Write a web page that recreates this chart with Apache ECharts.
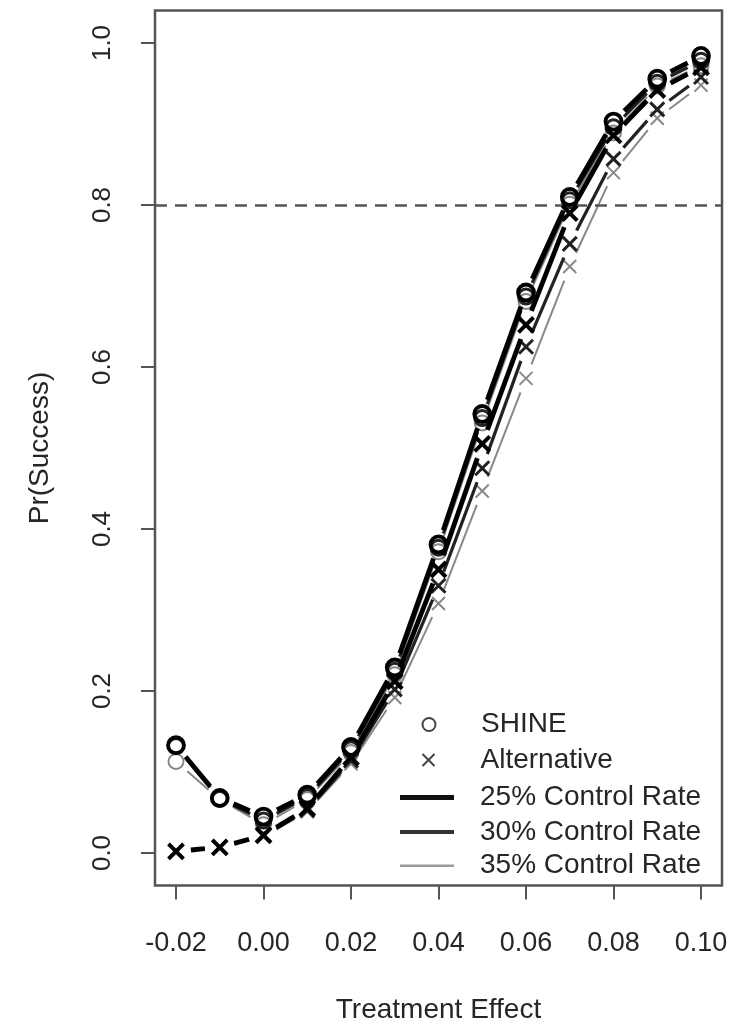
<!DOCTYPE html>
<html>
<head>
<meta charset="utf-8">
<script src="https://cdn.jsdelivr.net/npm/echarts@6/dist/echarts.min.js"></script>
<style>
html,body{margin:0;padding:0;background:#fff;}
#chart{width:731px;height:1024px;}
</style>
</head>
<body>
<div id="chart"></div>
<script>
// ---- data ----
const xValues = [-0.02, -0.01, 0.00, 0.01, 0.02, 0.03, 0.04, 0.05, 0.06, 0.07, 0.08, 0.09, 0.10];
const shine25 = [0.133, 0.068, 0.045, 0.072, 0.131, 0.229, 0.381, 0.542, 0.692, 0.810, 0.903, 0.956, 0.984];
const shine30 = [0.132, 0.067, 0.040, 0.069, 0.128, 0.225, 0.377, 0.537, 0.687, 0.806, 0.896, 0.951, 0.978];
const shine35 = [0.113, 0.066, 0.035, 0.066, 0.124, 0.220, 0.372, 0.531, 0.681, 0.801, 0.889, 0.947, 0.972];
const alt25 = [0.002, 0.007, 0.022, 0.055, 0.118, 0.212, 0.350, 0.505, 0.652, 0.790, 0.886, 0.942, 0.970];
const alt30 = [0.002, 0.007, 0.021, 0.053, 0.114, 0.202, 0.330, 0.475, 0.625, 0.752, 0.857, 0.918, 0.958];
const alt35 = [0.002, 0.006, 0.020, 0.051, 0.110, 0.192, 0.308, 0.447, 0.586, 0.724, 0.840, 0.907, 0.948];
const xTicks = [-0.02, 0.00, 0.02, 0.04, 0.06, 0.08, 0.10];
const xTickLabels = ['-0.02', '0.00', '0.02', '0.04', '0.06', '0.08', '0.10'];
const yTicks = [0.0, 0.2, 0.4, 0.6, 0.8, 1.0];
const yTickLabels = ['0.0', '0.2', '0.4', '0.6', '0.8', '1.0'];
const targetLevel = 0.8;
const legendNames = ['SHINE', 'Alternative', '25% Control Rate', '30% Control Rate', '35% Control Rate'];

// ---- styling ----
const GAP = 15;
const CROSS = 'path://M0,0L10,10M0,10L10,0';
const FONT = '"Liberation Sans", Arial, Helvetica, sans-serif';
const TXT = '#262626';

function labelFor(ticks, labels, v) {
  const i = ticks.findIndex(t => Math.abs(t - v) < 1e-9);
  return i >= 0 ? labels[i] : '';
}

function segSeries(name, ys, color, width, z) {
  return {
    type: 'custom', name: name, z: z, silent: true,
    data: xValues.map((x, i) => [x, ys[i]]),
    encode: { x: 0, y: 1 },
    renderItem: function (params, api) {
      const i = params.dataIndex;
      if (i >= xValues.length - 1) return { type: 'group', children: [] };
      const p = api.coord([xValues[i], ys[i]]);
      const q = api.coord([xValues[i + 1], ys[i + 1]]);
      const dx = q[0] - p[0], dy = q[1] - p[1];
      const len = Math.sqrt(dx * dx + dy * dy);
      if (len <= 2 * GAP) return { type: 'group', children: [] };
      const ux = dx / len, uy = dy / len;
      return {
        type: 'line',
        shape: { x1: p[0] + ux * GAP, y1: p[1] + uy * GAP, x2: q[0] - ux * GAP, y2: q[1] - uy * GAP },
        style: { stroke: color, lineWidth: width, lineCap: 'butt' }
      };
    }
  };
}

function markSeries(name, ys, symbol, size, color, width, z) {
  return {
    type: 'scatter', name: name, z: z, silent: true,
    symbol: symbol, symbolSize: size,
    data: xValues.map((x, i) => [x, ys[i]]),
    itemStyle: { color: 'rgba(0,0,0,0)', borderColor: color, borderWidth: width, opacity: 1 }
  };
}

const centers = [717, 752, 786, 820, 853];
const legendSpecs = [
  { h: 13, left: 421.5, pad: 20, icon: 'circle', style: { color: 'rgba(0,0,0,0)', borderColor: '#444', borderWidth: 2 } },
  { h: 12, left: 421.5, pad: 20, icon: CROSS, style: { color: 'rgba(0,0,0,0)', borderColor: '#444', borderWidth: 2 } },
  { h: 5, left: 400, pad: 21, icon: 'rect', style: { color: '#111' } },
  { h: 4, left: 400, pad: 21, icon: 'rect', style: { color: '#333' } },
  { h: 2.5, left: 400, pad: 21, icon: 'rect', style: { color: '#999' } }
];
const legends = legendNames.map((n, i) => ({
  left: legendSpecs[i].left, top: centers[i] - legendSpecs[i].h / 2, padding: 0,
  itemWidth: 54, itemHeight: legendSpecs[i].h, selectedMode: false,
  textStyle: { fontSize: 28, fontFamily: FONT, color: TXT, padding: [0, 0, 0, legendSpecs[i].pad] },
  data: [{ name: n, icon: legendSpecs[i].icon, itemStyle: legendSpecs[i].style }]
}));

const chart = echarts.init(document.getElementById('chart'), null, { renderer: 'canvas' });
chart.setOption({
  animation: false,
  backgroundColor: '#fff',
  legend: legends,
  grid: { left: 155, right: 9, top: 10.6, bottom: 138.6, containLabel: false, outerBoundsMode: 'none',
    show: true, borderColor: '#555', borderWidth: 2.5, backgroundColor: 'transparent' },
  xAxis: {
    type: 'value', min: -0.0248, max: 0.1048,
    name: 'Treatment Effect', nameLocation: 'middle', nameGap: 111,
    nameTextStyle: { fontSize: 28, fontFamily: FONT, color: TXT },
    axisLine: { show: false, onZero: false },
    splitLine: { show: false },
    axisTick: { show: true, inside: false, length: 14, customValues: xTicks, lineStyle: { color: '#555', width: 2 } },
    axisLabel: { customValues: xTicks, margin: 45, fontSize: 27, fontFamily: FONT, color: TXT,
      formatter: v => labelFor(xTicks, xTickLabels, v) }
  },
  yAxis: {
    type: 'value', min: -0.04, max: 1.04,
    name: 'Pr(Success)', nameLocation: 'middle', nameGap: 101, nameRotate: 90,
    nameTextStyle: { fontSize: 28, fontFamily: FONT, color: TXT },
    axisLine: { show: false, onZero: false },
    splitLine: { show: false },
    axisTick: { show: true, inside: false, length: 14, customValues: yTicks, lineStyle: { color: '#555', width: 2 } },
    axisLabel: { customValues: yTicks, margin: 39, rotate: 90, fontSize: 26, fontFamily: FONT, color: TXT,
      formatter: v => labelFor(yTicks, yTickLabels, v) }
  },
  series: [
    {
      type: 'line', name: 'target', data: [], silent: true,
      markLine: { silent: true, symbol: ['none', 'none'], label: { show: false },
        lineStyle: { type: [12, 8], color: '#555', width: 2.5 },
        data: [{ yAxis: targetLevel }] }
    },
    segSeries('35% Control Rate', shine35, '#888', 2, 2),
    segSeries('35% Control Rate', alt35, '#888', 2, 2),
    markSeries('SHINE', shine35, 'circle', 15, '#888', 2, 3),
    markSeries('Alternative', alt35, CROSS, 13, '#888', 2, 3),
    segSeries('30% Control Rate', shine30, '#222', 3.2, 4),
    segSeries('30% Control Rate', alt30, '#222', 3.2, 4),
    markSeries('SHINE', shine30, 'circle', 15, '#222', 3, 5),
    markSeries('Alternative', alt30, CROSS, 14, '#222', 3, 5),
    segSeries('25% Control Rate', shine25, '#000', 4.8, 6),
    segSeries('25% Control Rate', alt25, '#000', 4.8, 6),
    markSeries('SHINE', shine25, 'circle', 16, '#000', 3.8, 7),
    markSeries('Alternative', alt25, CROSS, 15, '#000', 4, 7)
  ]
});
</script>
</body>
</html>
